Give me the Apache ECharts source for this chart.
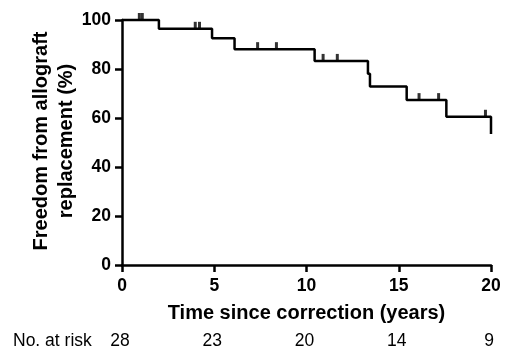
<!DOCTYPE html>
<html><head><meta charset="utf-8">
<script src="https://cdn.jsdelivr.net/npm/echarts@6/dist/echarts.min.js"></script>
<style>html,body{margin:0;padding:0;background:#fff}#c{width:506px;height:354px}</style>
</head><body><div id="c"></div>
<script>
// Kaplan-Meier step data (time in years, survival %)
var stepTimes = [0, 2.0, 4.88, 6.1, 10.44, 13.33, 13.44, 15.43, 17.58, 20];
var stepSurv  = [100, 96.4, 92.6, 88.1, 83.3, 78.1, 72.9, 67.3, 60.5, 53.5];
// Censored observations (time in years)
var censorTimes = [0.94, 1.1, 3.97, 4.2, 7.35, 8.37, 10.9, 11.67, 16.1, 17.16, 19.7];
// Number at risk
var riskTimes  = [0, 5, 10, 15, 20];
var riskCounts = [28, 23, 20, 14, 9];
var xTicks = [0, 5, 10, 15, 20];
var yTicks = [0, 20, 40, 60, 80, 100];

function survAt(t){
  var s = stepSurv[0];
  for (var i=0;i<stepTimes.length;i++){ if (stepTimes[i] <= t) s = stepSurv[i]; }
  return s;
}
var linePts = [];
for (var i=0;i<stepTimes.length;i++){
  if (i>0) linePts.push([stepTimes[i], stepSurv[i-1]]);
  linePts.push([stepTimes[i], stepSurv[i]]);
}
var censorPts = censorTimes.map(function(t){ return [t, survAt(t)]; });

var FONT = '"Liberation Sans", Arial, sans-serif';
var chart = echarts.init(document.getElementById('c'), null, {renderer:'canvas'});
chart.setOption({
  animation:false,
  grid:{left:122, right:15, top:20, bottom:89, containLabel:false},
  xAxis:{
    type:'value', min:0, max:20, interval:5,
    name:'Time since correction (years)', nameLocation:'middle', nameGap:38,
    nameTextStyle:{fontFamily:FONT, fontWeight:'bold', fontSize:20, color:'#000'},
    axisLine:{show:true, onZero:false, lineStyle:{color:'#000', width:2.5}},
    axisTick:{show:true, length:7, lineStyle:{color:'#000', width:2.5}},
    axisLabel:{fontFamily:FONT, fontWeight:'bold', fontSize:17.5, color:'#000', margin:12},
    splitLine:{show:false}
  },
  yAxis:{
    type:'value', min:0, max:100, interval:20,
    axisLine:{show:true, onZero:false, lineStyle:{color:'#000', width:2.5}},
    axisTick:{show:true, length:7, lineStyle:{color:'#000', width:2.5}},
    axisLabel:{fontFamily:FONT, fontWeight:'bold', fontSize:17.5, color:'#000', margin:11},
    splitLine:{show:false}
  },
  series:[
    {type:'line', data:linePts, showSymbol:false, symbol:'none',
     lineStyle:{color:'#000', width:2.5}, clip:false},
    {type:'scatter', data:censorPts, symbol:'rect', symbolSize:[3,7], symbolOffset:[0,-3.5],
     itemStyle:{color:'#000'}, clip:false}
  ]
});
var g = [
  {type:'text', x:54, y:141, rotation:Math.PI/2,
   style:{text:'Freedom from allograft\nreplacement (%)', font:'bold 20px '+FONT, fill:'#000',
          align:'center', verticalAlign:'middle', lineHeight:25}},
  {type:'text', x:13, y:341, style:{text:'No. at risk', font:'17.5px '+FONT, fill:'#000', verticalAlign:'middle'}}
];
riskTimes.forEach(function(t,i){
  var px = chart.convertToPixel({xAxisIndex:0}, t);
  g.push({type:'text', x:px - 2, y:341, style:{text:String(riskCounts[i]), font:'17.5px '+FONT, fill:'#000', align:'center', verticalAlign:'middle'}});
});
chart.setOption({graphic:g});
</script></body></html>
